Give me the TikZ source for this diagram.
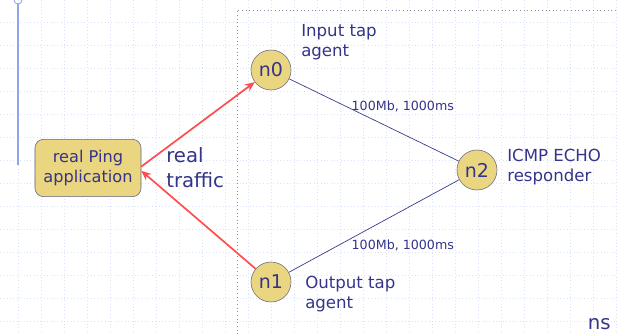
\documentclass[tikz,border=0pt]{standalone}
\usepackage{fontspec}
\setmainfont{DejaVu Sans}
\usetikzlibrary{arrows.meta,calc,positioning}
\definecolor{TextClr}{RGB}{52,52,138}
\definecolor{NodeClr}{RGB}{234,213,128}
\definecolor{LinkClr}{RGB}{60,60,140}
\definecolor{TrafficClr}{RGB}{255,76,76}
\definecolor{GridClr}{RGB}{218,226,250}
\definecolor{BarClr}{RGB}{140,165,235}
\definecolor{FrameClr}{RGB}{140,140,175}

\begin{document}
\begin{tikzpicture}[x=0.025cm,y=-0.025cm,
  font=\fontsize{11.8}{14.5}\selectfont,text=TextClr,
  nsnode/.style={circle,draw=gray!70!TextClr,fill=NodeClr,minimum size=1cm,inner sep=0pt,font=\fontsize{13.5}{15}\selectfont},
  appbox/.style={rectangle,rounded corners=6pt,draw=gray!60!TextClr,fill=NodeClr,minimum width=2.65cm,minimum height=1.43cm,align=center,inner sep=2pt,font=\fontsize{11.5}{14}\selectfont},
  note/.style={align=left,anchor=north west,inner sep=0pt},
  linklbl/.style={font=\fontsize{9}{11}\selectfont,inner sep=0pt},
  link/.style={draw=LinkClr,line width=0.5pt},
  traffic/.style={draw=TrafficClr,line width=1.2pt,-{Stealth[length=7pt,width=6pt]}}]
\useasboundingbox (0,0) rectangle (617,334);
\fill[white] (0,0) rectangle (617,334);

% background grid
\foreach \gx in {18,41,...,617}
  \draw[GridClr,dotted] (\gx,0) -- (\gx,334);
\foreach \gy in {22,45,...,334}
  \draw[GridClr,dotted] (0,\gy) -- (617,\gy);
\draw[BarClr,line width=1pt] (18,4) -- (18,165);
\draw[BarClr,line width=0.6pt] (18,0) circle (4);

% ns area
\draw[FrameClr,dotted,line width=0.6pt] (237,334) -- (237,10) -- (617,10);
\node[anchor=south east,font=\fontsize{14}{16}\selectfont,inner sep=0pt] (nslbl) at (611,330) {ns};

% nodes
\node[appbox] (ping) at (88,168) {real Ping\\application};
\node[nsnode] (n0) at (271,70) {n0};
\node[nsnode] (n1) at (271,282) {n1};
\node[nsnode] (n2) at (477,170) {n2};

\node[note] (n0lbl) at (301,24) {Input tap\\agent};
\node[note] (n1lbl) at (305,276) {Output tap\\agent};
\node[note] (n2lbl) at (507,149) {ICMP ECHO\\responder};
\node[note,font=\fontsize{14}{18}\selectfont] (trlbl) at (166,147) {real\\traffic};

% links
\draw[link] (n0) -- (n2) node[pos=0.5,linklbl,xshift=20.5pt,yshift=10pt] (l02) {100Mb, 1000ms};
\draw[link] (n1) -- (n2) node[pos=0.5,linklbl,xshift=20.5pt,yshift=-14pt] (l12) {100Mb, 1000ms};

% real traffic
\draw[traffic] ([yshift=1pt]ping.east) -- (n0);
\draw[traffic] (n1) -- ([yshift=-2pt]ping.east);

\end{tikzpicture}
\end{document}
